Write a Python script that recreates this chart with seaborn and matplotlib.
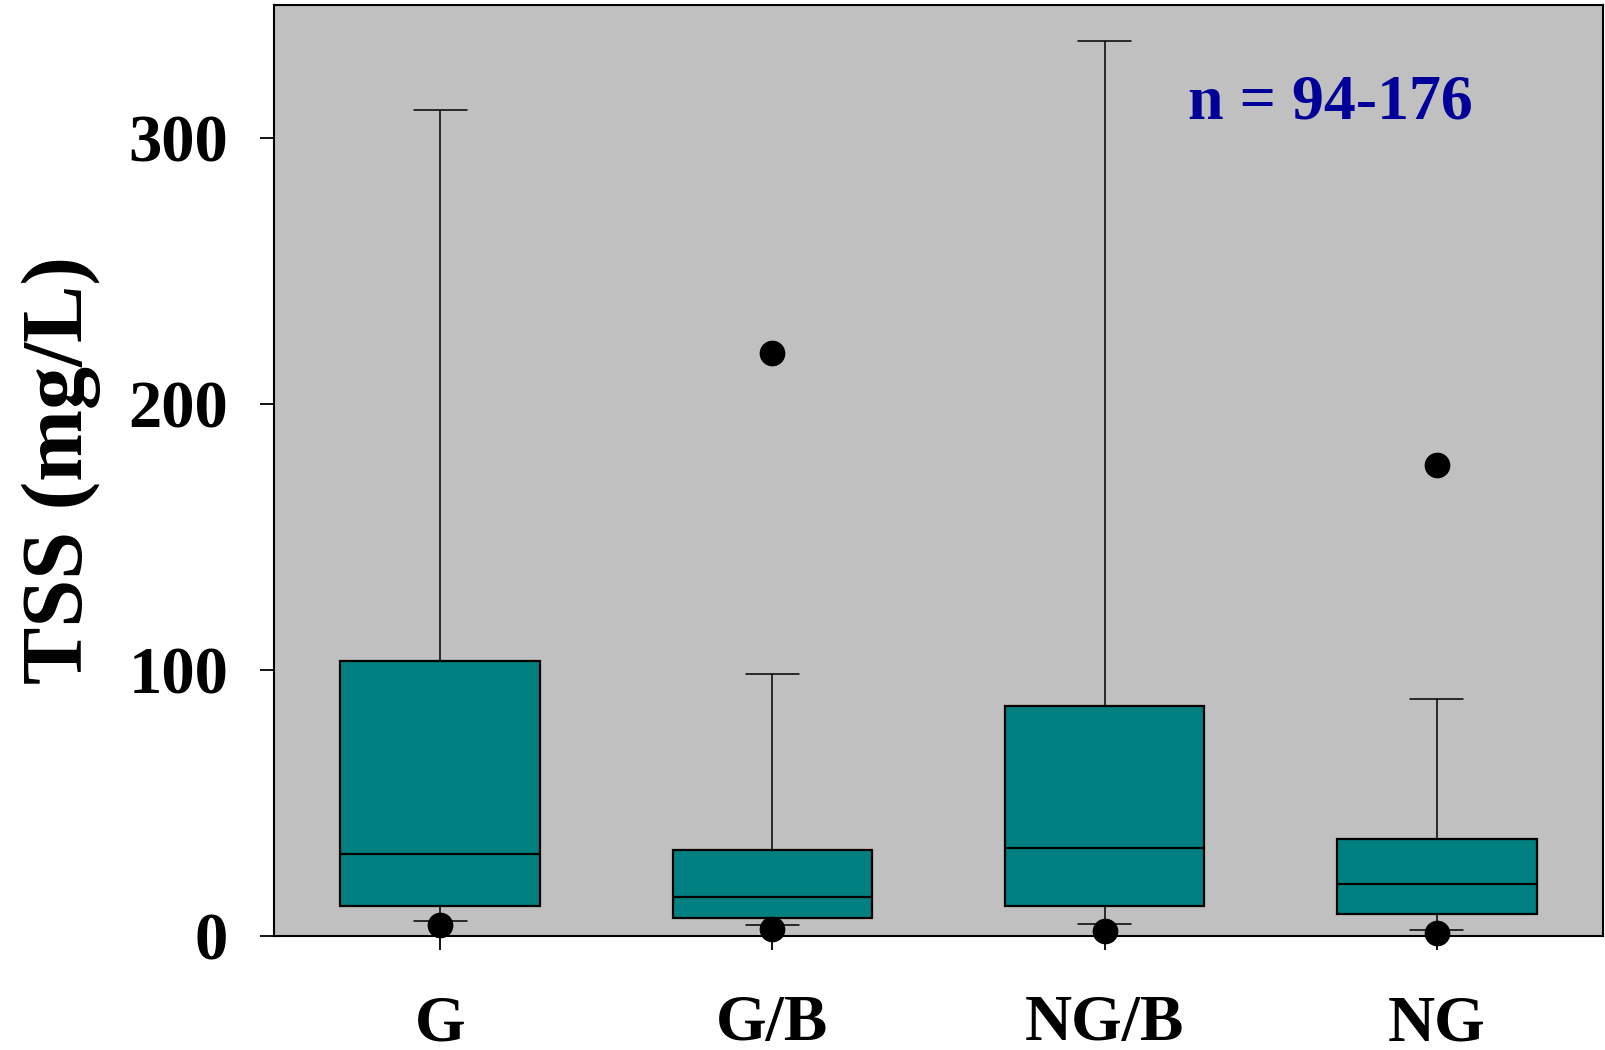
import numpy as np
import pandas as pd
import matplotlib
matplotlib.use("Agg")
import matplotlib.pyplot as plt
import seaborn as sns

# categories and box summary values (mg/L)
groups = ["G", "G/B", "NG/B", "NG"]
p10 = [5.8, 4.2, 4.6, 2.3]
q1 = [11.2, 6.9, 11.2, 8.1]
med = [30.8, 14.6, 33.1, 19.6]
q3 = [103.2, 32.3, 86.6, 36.6]
p90 = [310.4, 98.6, 336.5, 89.0]

# 5th / 95th percentile points shown as dots
dot_group = ["G", "G/B", "G/B", "NG/B", "NG", "NG"]
dot_value = [4.2, 2.7, 219.0, 1.9, 1.2, 177.0]

# five values per group -> quartiles land exactly on q1/med/q3, whiskers at min/max
rows = []
for i, g in enumerate(groups):
    for v in (p10[i], q1[i], med[i], q3[i], p90[i]):
        rows.append((g, v))
df = pd.DataFrame(rows, columns=["group", "tss"])
dots = pd.DataFrame({"group": dot_group, "tss": dot_value})

sns.set_style("white")
plt.rcParams["font.family"] = ["Liberation Serif", "DejaVu Serif"]
plt.rcParams["font.weight"] = "bold"
plt.rcParams["text.color"] = "black"
plt.rcParams["xtick.color"] = "black"
plt.rcParams["ytick.color"] = "black"
plt.rcParams["axes.labelcolor"] = "black"

fig = plt.figure(figsize=(16.05, 10.5), dpi=100)
ax = fig.add_axes([274 / 1605, 114 / 1050, 1329 / 1605, 931 / 1050])
ax.set_facecolor("#c0c0c0")

sns.boxplot(data=df, x="group", y="tss", order=groups, whis=(0, 100),
            color="#008080", saturation=1, linecolor="black", linewidth=1.6,
            width=0.6, showfliers=False, capwidths=0.16,
            whiskerprops={"linewidth": 1.1}, capprops={"linewidth": 1.1},
            ax=ax)

sns.stripplot(data=dots, x="group", y="tss", order=groups, jitter=False,
              color="black", size=18.5, ax=ax)
for c in ax.collections:
    c.set_clip_on(False)

ax.set_xlim(-0.5, 3.5)
ax.set_ylim(0, 350)
ax.set_yticks([0, 100, 200, 300])

for s in ax.spines.values():
    s.set_visible(True)
    s.set_color("black")
    s.set_linewidth(1.5)

ax.tick_params(axis="both", direction="out", length=10, width=1.3,
               color="black", labelcolor="black", bottom=True, left=True)
ax.tick_params(axis="y", pad=23, labelsize=48)
ax.tick_params(axis="x", pad=32, labelsize=47)
for lab in ax.get_xticklabels() + ax.get_yticklabels():
    lab.set_fontweight("bold")

ax.set_xlabel("")
ax.set_ylabel("TSS (mg/L)", fontsize=62, fontweight="bold", labelpad=20)

ax.text(2.68, 313, "n = 94-176", color="#000099", fontsize=46,
        fontweight="bold", ha="center", va="center")

fig.savefig("out.png", dpi=100)
